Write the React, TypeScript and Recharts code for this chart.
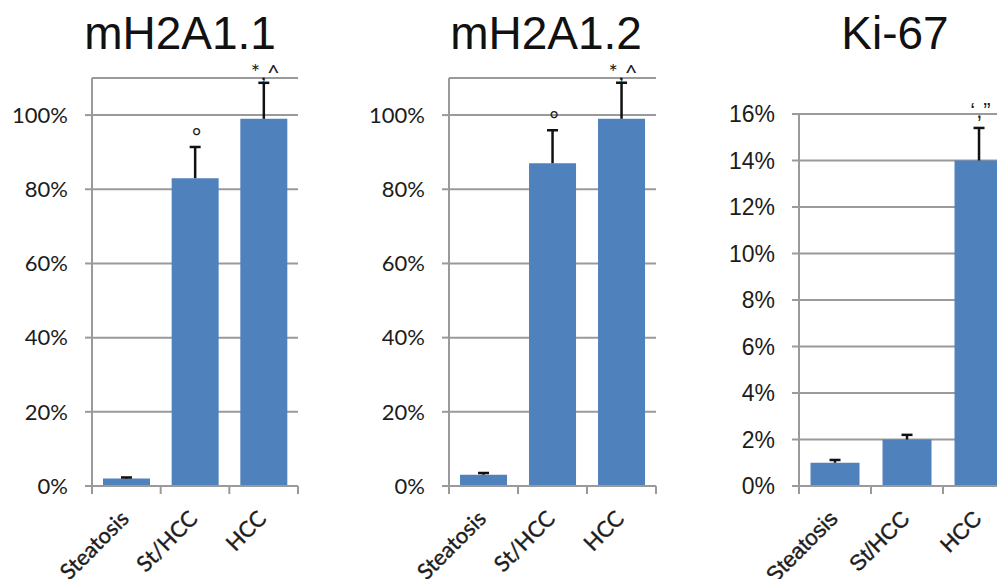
import React from "react";
import { BarChart, Bar, XAxis, YAxis, CartesianGrid, LabelList } from "recharts";

const categories = ["Steatosis", "St/HCC", "HCC"];

const h2a11Values = [2, 83, 99];
const h2a11Errors = [0.3, 8.4, 9.7];
const h2a11Notes = ["", "°", "*,^"];

const h2a12Values = [3, 87, 99];
const h2a12Errors = [0.5, 8.9, 9.7];
const h2a12Notes = ["", "°", "*,^"];

const ki67Values = [1.0, 2.0, 14.0];
const ki67Errors = [0.12, 0.2, 1.4];
const ki67Notes = ["", "", "‘,”"];

const mh2aTicks = [0, 20, 40, 60, 80, 100];
const ki67Ticks = [0, 2, 4, 6, 8, 10, 12, 14, 16];

const barBlue = "#4f81bd";
const axisGray = "#9a9a9a";
const textDark = "#1c1c1c";

const toRows = (values: number[], errors: number[], notes: string[]) =>
  categories.map((name, i) => ({ name, value: values[i], err: errors[i], note: notes[i] }));

function makeCatTick(band: number, font: string, size: number) {
  return (props: any) => {
    const { x, y, payload, index } = props;
    const half = band / 2;
    return (
      <g>
        {index === 0 ? (
          <line x1={x - half} x2={x - half} y1={y} y2={y + 8} stroke={axisGray} strokeWidth={2} />
        ) : null}
        <line x1={x + half} x2={x + half} y1={y} y2={y + 8} stroke={axisGray} strokeWidth={2} />
        <text
          transform={`translate(${x + 4},${y + 34}) rotate(-45)`}
          textAnchor="end"
          fontFamily={font}
          fontSize={size}
          fill={textDark}
          stroke={textDark}
          strokeWidth={0.4}
        >
          {payload.value}
        </text>
      </g>
    );
  };
}

const Whisker = (props: any) => {
  const { x, y, width, height } = props;
  const cx = x + width / 2;
  return (
    <g>
      <line x1={cx} x2={cx} y1={y} y2={y + height} stroke="#111" strokeWidth={2.5} />
      <line x1={cx - 5.5} x2={cx + 5.5} y1={y} y2={y} stroke="#111" strokeWidth={2.5} />
    </g>
  );
};

function noteLabel(font: string, lift: number) {
  return (props: any) => {
    const { x, y, width, value } = props;
    if (!value) return null;
    return (
      <text
        x={x + width / 2 + 2}
        y={y - lift}
        textAnchor="middle"
        fontFamily={font}
        fontSize={22}
        letterSpacing={1}
        fill={textDark}
      >
        {value}
      </text>
    );
  };
}

type PanelProps = {
  rows: { name: string; value: number; err: number; note: string }[];
  left: number;
  width: number;
  margin: { top: number; right: number; bottom: number; left: number };
  domain: [number, number];
  ticks: number[];
  font: string;
  tickSize: number;
  noteLift: number;
};

function Panel({ rows, left, width, margin, domain, ticks, font, tickSize, noteLift }: PanelProps) {
  const band = (width - margin.left - margin.right - 80) / categories.length;
  return (
    <div style={{ position: "absolute", left, top: 0 }}>
      <BarChart width={width} height={587} data={rows} margin={margin} barCategoryGap="16%">
        <CartesianGrid vertical={false} stroke={axisGray} strokeWidth={2} />
        <XAxis
          dataKey="name"
          height={101}
          interval={0}
          tickSize={0}
          tickMargin={0}
          tickLine={false}
          axisLine={{ stroke: axisGray, strokeWidth: 2 }}
          tick={makeCatTick(band, font, 22)}
        />
        <YAxis
          width={80}
          domain={domain}
          ticks={ticks}
          allowDataOverflow
          interval={0}
          tickFormatter={(v: number) => `${v}%`}
          tickSize={7}
          tickMargin={17}
          axisLine={{ stroke: axisGray, strokeWidth: 2 }}
          tickLine={{ stroke: axisGray, strokeWidth: 2 }}
          tick={{ fontFamily: font, fontSize: tickSize, fill: textDark }}
        />
        <Bar dataKey="value" stackId="s" fill={barBlue} isAnimationActive={false} />
        <Bar dataKey="err" stackId="s" shape={Whisker} isAnimationActive={false}>
          <LabelList dataKey="note" content={noteLabel(font, noteLift)} />
        </Bar>
      </BarChart>
    </div>
  );
}

export default function App() {
  const arial = "Liberation Sans, Arial, sans-serif";
  const lato = "Lato, Liberation Sans, sans-serif";
  return (
    <div style={{ position: "relative", width: 1005, height: 587, margin: -8, overflow: "hidden", background: "#fff" }}>
      <Panel
        rows={toRows(h2a11Values, h2a11Errors, h2a11Notes)}
        left={0}
        width={340}
        margin={{ top: 78, right: 42, bottom: 0, left: 12 }}
        domain={[0, 110]}
        ticks={mh2aTicks}
        font={lato}
        tickSize={22}
        noteLift={3}
      />
      <Panel
        rows={toRows(h2a12Values, h2a12Errors, h2a12Notes)}
        left={340}
        width={360}
        margin={{ top: 78, right: 44, bottom: 0, left: 29 }}
        domain={[0, 110]}
        ticks={mh2aTicks}
        font={lato}
        tickSize={22}
        noteLift={3}
      />
      <Panel
        rows={toRows(ki67Values, ki67Errors, ki67Notes)}
        left={680}
        width={360}
        margin={{ top: 114, right: 25, bottom: 0, left: 39 }}
        domain={[0, 16]}
        ticks={ki67Ticks}
        font={arial}
        tickSize={23}
        noteLift={10}
      />
      <svg width={1005} height={587} style={{ position: "absolute", left: 0, top: 0, pointerEvents: "none" }}>
        <g fontFamily={arial} fontSize={46} fill="#111" textAnchor="middle">
          <text x={180} y={49}>mH2A1.1</text>
          <text x={546} y={49}>mH2A1.2</text>
          <text x={895} y={49}>Ki-67</text>
        </g>
      </svg>
    </div>
  );
}
